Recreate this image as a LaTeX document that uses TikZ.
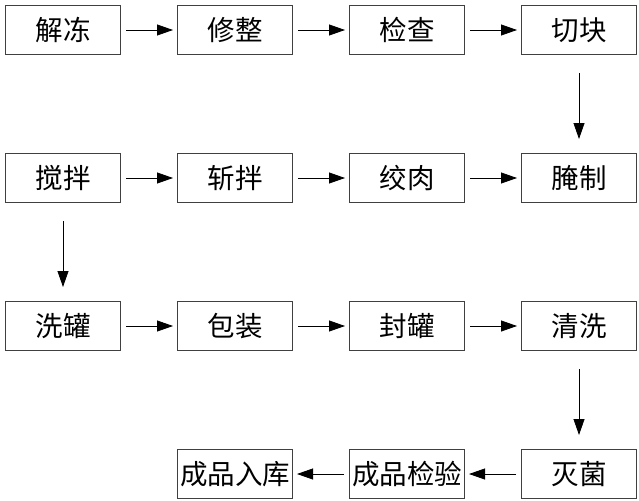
\documentclass[tikz,border=0pt]{standalone}
\usepackage{fontspec}
\newfontfamily\cjk{Noto Sans CJK SC}
\usetikzlibrary{positioning,arrows.meta}

\begin{document}
\begin{tikzpicture}[
  x=1pt, y=1pt,
  node distance=98pt and 56pt,
  stepbox/.style={rectangle, draw=black!75, line width=1pt, minimum width=115pt, minimum height=49pt, inner sep=0pt, font=\cjk\fontsize{27.5}{30}\selectfont},
  arrow/.style={-{Triangle[length=16pt,width=11pt]}, line width=0.8pt}
]

\useasboundingbox (0,0) rectangle (639,-500);

% first row
\node[stepbox, anchor=north west] (thaw) at (5,-5) {解冻};
\node[stepbox, right=of thaw] (trim) {修整};
\node[stepbox, right=of trim] (check) {检查};
\node[stepbox, right=of check] (cut) {切块};

% second row
\node[stepbox, below=of thaw] (mix) {搅拌};
\node[stepbox, right=of mix] (chop) {斩拌};
\node[stepbox, right=of chop] (mince) {绞肉};
\node[stepbox, right=of mince] (cure) {腌制};

% third row
\node[stepbox, below=of mix] (washcan) {洗罐};
\node[stepbox, right=of washcan] (pack) {包装};
\node[stepbox, right=of pack] (seal) {封罐};
\node[stepbox, right=of seal] (clean) {清洗};

% fourth row
\node[stepbox, below=of clean] (steril) {灭菌};
\node[stepbox, left=of steril] (inspect) {成品检验};
\node[stepbox, left=of inspect] (store) {成品入库};

% horizontal arrows
\foreach \a/\b in {thaw/trim, trim/check, check/cut, mix/chop, chop/mince, mince/cure, washcan/pack, pack/seal, seal/clean}
  \draw[arrow, shorten <=5pt, shorten >=4pt] (\a.east) -- (\b.west);
\draw[arrow, shorten <=5pt, shorten >=4pt] (steril.west) -- (inspect.east);
\draw[arrow, shorten <=5pt, shorten >=4pt] (inspect.west) -- (store.east);

% vertical arrows
\draw[arrow, shorten <=18pt, shorten >=14pt] (cut.south) -- (cure.north);
\draw[arrow, shorten <=18pt, shorten >=14pt] (mix.south) -- (washcan.north);
\draw[arrow, shorten <=18pt, shorten >=14pt] (clean.south) -- (steril.north);

\end{tikzpicture}
\end{document}
